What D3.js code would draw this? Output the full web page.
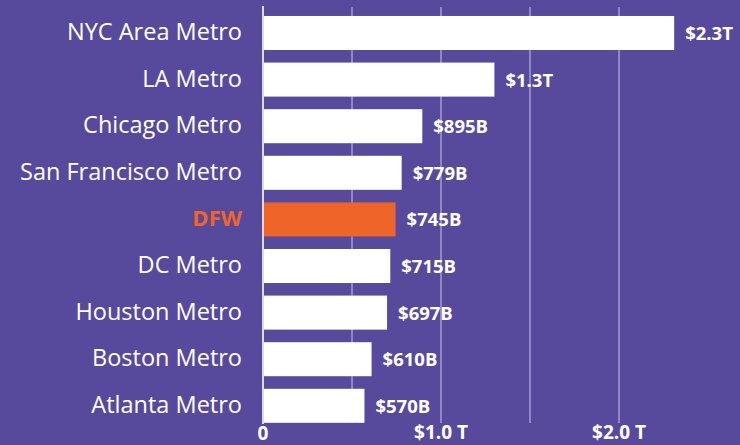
<!DOCTYPE html>
<html>
<head>
<meta charset="utf-8">
<script src="https://cdn.jsdelivr.net/npm/d3@7"></script>
<style>
  body { margin: 0; background: #574a9d; }
  svg { display: block; font-family: "Open Sans", sans-serif; }
</style>
</head>
<body>
<svg id="chart"></svg>
<script>
const metros = ["NYC Area Metro", "LA Metro", "Chicago Metro", "San Francisco Metro", "DFW", "DC Metro", "Houston Metro", "Boston Metro", "Atlanta Metro"];
const gdpBillions = [2310, 1300, 895, 779, 745, 715, 697, 610, 570];
const valueLabels = ["$2.3T", "$1.3T", "$895B", "$779B", "$745B", "$715B", "$697B", "$610B", "$570B"];
const gridValues = [500, 1000, 1500, 2000];
const tickValues = [0, 1000, 2000];
const tickLabels = ["0", "$1.0 T", "$2.0 T"];
const highlight = "DFW";

const width = 740;
const height = 445;
const bg = "#574a9d";
const orange = "#ef6428";

const data = metros.map((m, i) => ({ metro: m, value: gdpBillions[i], label: valueLabels[i] }));

const svg = d3.select("#chart").attr("width", width).attr("height", height);
svg.append("rect").attr("width", width).attr("height", height).attr("fill", bg);

const xScale = d3.scaleLinear().domain([0, 1000]).range([263, 441]);
const yScale = d3.scaleBand().domain(metros).range([3.4, 435.4]).padding(0.27);

// gridlines
svg.append("g")
  .selectAll("line")
  .data(gridValues)
  .join("line")
  .attr("x1", (d) => xScale(d))
  .attr("x2", (d) => xScale(d))
  .attr("y1", 7)
  .attr("y2", 423)
  .attr("stroke", "#c9c5e0")
  .attr("stroke-width", 1);

// bars
svg.append("g")
  .selectAll("rect")
  .data(data)
  .join("rect")
  .attr("x", xScale(0) + 1)
  .attr("y", (d) => yScale(d.metro))
  .attr("width", (d) => xScale(d.value) - xScale(0) - 1)
  .attr("height", yScale.bandwidth())
  .attr("fill", (d) => (d.metro === highlight ? orange : "#ffffff"));

// zero axis line
svg.append("line")
  .attr("x1", xScale(0))
  .attr("x2", xScale(0))
  .attr("y1", 6)
  .attr("y2", 424)
  .attr("stroke", "#dcdbe6")
  .attr("stroke-width", 2);

// category labels
svg.append("g")
  .selectAll("text")
  .data(data)
  .join("text")
  .attr("x", 242)
  .attr("y", (d) => yScale(d.metro) + yScale.bandwidth() / 2)
  .attr("dy", "0.3em")
  .attr("text-anchor", "end")
  .style("font-size", (d) => (d.metro === highlight ? "22px" : "23.5px"))
  .style("font-weight", (d) => (d.metro === highlight ? 700 : 400))
  .style("fill", (d) => (d.metro === highlight ? orange : "#ffffff"))
  .text((d) => d.metro);

// value labels
svg.append("g")
  .selectAll("text")
  .data(data)
  .join("text")
  .attr("x", (d) => xScale(d.value) + 11)
  .attr("y", (d) => yScale(d.metro) + yScale.bandwidth() / 2)
  .attr("dy", "0.38em")
  .style("font-size", "18.5px")
  .style("font-weight", 700)
  .style("fill", "#ffffff")
  .text((d) => d.label);

// x tick labels
svg.append("g")
  .selectAll("text")
  .data(tickValues)
  .join("text")
  .attr("x", (d) => xScale(d))
  .attr("y", (d, i) => (i === 0 ? 440 : 439))
  .attr("text-anchor", "middle")
  .style("font-size", "19px")
  .style("font-weight", 700)
  .style("fill", "#ffffff")
  .text((d, i) => tickLabels[i]);
</script>
</body>
</html>
